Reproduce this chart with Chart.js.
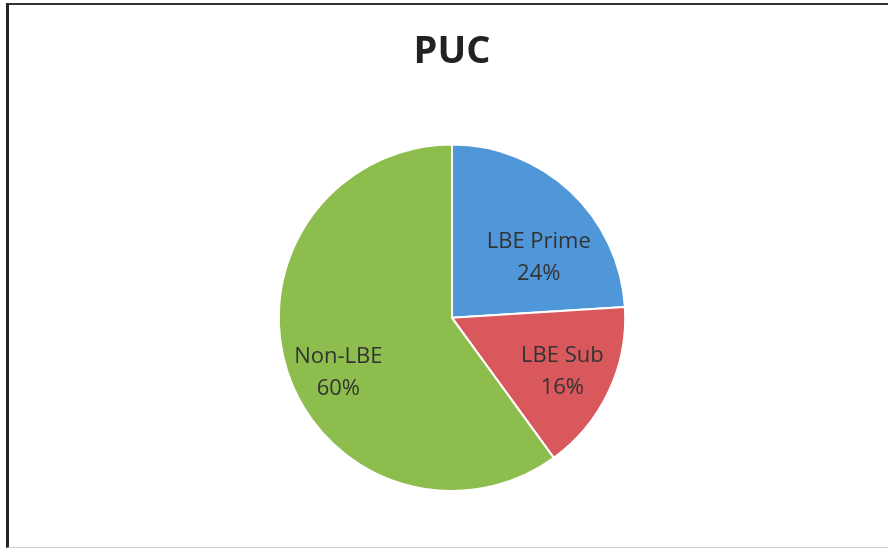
<!DOCTYPE html>
<html>
<head>
<meta charset="utf-8">
<script src="https://cdn.jsdelivr.net/npm/chart.js@4"></script>
<style>
  html, body { margin: 0; padding: 0; background: #fff; }
  #marco {
    position: absolute; left: 6px; top: 3px; width: 882px; height: 545px;
    border-top: 2px solid #333; border-left: 3px solid #222; border-bottom: 1px solid #ccc;
    box-sizing: border-box;
  }
  #grafico { position: absolute; left: 0; top: 0; }
</style>
</head>
<body>
<div id="marco"></div>
<canvas id="grafico" width="888" height="550"></canvas>
<script>
// datos del gráfico
const categorias = ["LBE Prime", "LBE Sub", "Non-LBE"];
const porcentajes = [24, 16, 60];
const colores = ["#4f97d8", "#d8585c", "#8dbd4c"];

//plugin que escribe la etiqueta y el porcentaje dentro de cada trozo
const etiquetasPie = {
  id: "etiquetasPie",
  afterDatasetsDraw(chart, args, opts) {
    const ctx = chart.ctx;
    const arcos = chart.getDatasetMeta(0).data;
    ctx.save();
    ctx.font = "22px 'Open Sans'";
    ctx.fillStyle = "#333";
    ctx.textAlign = "center";
    ctx.textBaseline = "middle";
    arcos.forEach((arco, i) => {
      const p = arco.getProps(["x", "y", "startAngle", "endAngle", "outerRadius"], true);
      const medio = (p.startAngle + p.endAngle) / 2 + (opts.giro[i] * Math.PI) / 180;
      const r = p.outerRadius * opts.radio[i];
      const x = p.x + Math.cos(medio) * r;
      const y = p.y + Math.sin(medio) * r;
      ctx.fillText(categorias[i], x, y - 16);
      ctx.fillText(porcentajes[i] + "%", x, y + 16);
    });
    ctx.restore();
  },
};

const config = {
  type: "pie",
  data: {
    labels: categorias,
    datasets: [
      {
        data: porcentajes,
        backgroundColor: colores,
        borderColor: "#ffffff",
        borderWidth: 2,
      },
    ],
  },
  options: {
    responsive: false,
    animation: false,
    layout: { padding: { left: 16, right: 0, top: 0, bottom: 58 } },
    plugins: {
      legend: { display: false },
      tooltip: { enabled: false },
      title: {
        display: true,
        text: "PUC",
        color: "#222",
        font: { family: "'Open Sans'", size: 38, weight: "bold" },
        padding: { top: 29, bottom: 69 },
      },
      etiquetasPie: {
        giro: [12, 1, -8],
        radio: [0.61, 0.71, 0.73],
      },
    },
  },
  plugins: [etiquetasPie],
};

const chart = new Chart(document.getElementById("grafico"), config);
</script>
</body>
</html>
